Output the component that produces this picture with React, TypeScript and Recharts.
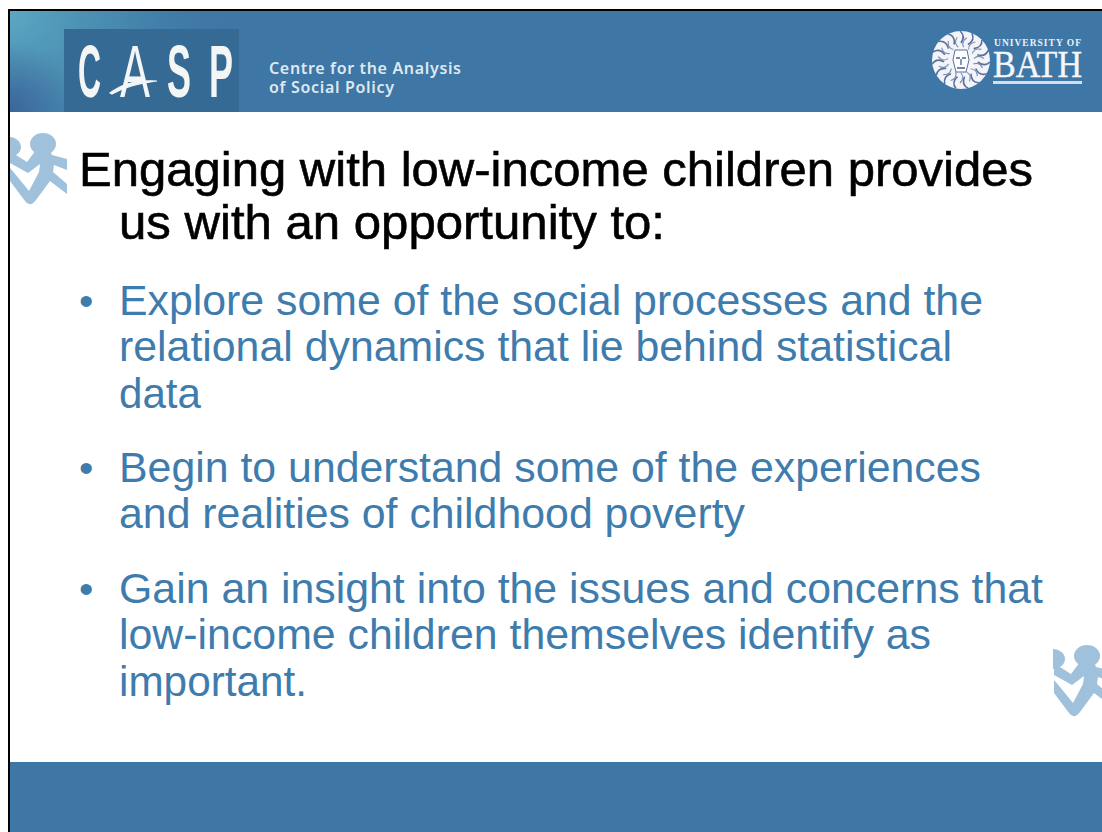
import React from "react";
import { ComposedChart, Customized } from "recharts";

const titleLines = ["Engaging with low-income children provides", "us with an opportunity to:"];
const bulletOne = ["Explore some of the social processes and the", "relational dynamics that lie behind statistical", "data"];
const bulletTwo = ["Begin to understand some of the experiences", "and realities of childhood poverty"];
const bulletThree = ["Gain an insight into the issues and concerns that", "low-income children themselves identify as", "important."];
const logoLetters = ["C", "A", "S", "P"];
const centreLines = ["Centre for the Analysis", "of Social Policy"];
const bathLines = ["UNIVERSITY OF", "BATH"];

const BLUE = "#3e76a5";
const TEXT = "#3f7cae";
const PALE = "#a0c1dc";
const SANS = "'Liberation Sans', Arial, sans-serif";

const Figure = ({ dx, dy, clip }: { dx: number; dy: number; clip: string }) => (
  <g clipPath={`url(#${clip})`}>
    <g transform={`translate(${dx} ${dy})`} fill={PALE}>
      <ellipse cx={43} cy={144} rx={13} ry={11} />
      <ellipse cx={9} cy={147} rx={12} ry={10} />
      <path d="M36 150 L50 150 L52 155 L67 159 L67 170 L54 165 L53 172 L67 184 L67 194 L50 181 L36 200 Q30 208 25 201 L10 181 L10 168 L16 175 L29 191 L39 172 L40 164 L28 173 L10 163 L10 151 L16 155 L27 162 Z" />
    </g>
  </g>
);

const Seal = () => {
  const rays = [0, 24, 48, 72, 96, 120, 144, 168, 192, 216, 240, 264, 288, 312, 336];
  return (
    <g>
      <circle cx={961} cy={60} r={29} fill="#f2f4f8" />
      {rays.map((a) => (
        <path key={a} transform={`rotate(${a} 961 60)`} d="M961 43 Q966 36 960 31" stroke="#5b6f9e" strokeWidth={1.6} fill="none" />
      ))}
      {rays.map((a) => (
        <path key={`b${a}`} transform={`rotate(${a + 12} 961 60)`} d="M961 47 Q957 42 962 37" stroke="#7c8db3" strokeWidth={1.1} fill="none" />
      ))}
      <path d="M955 50 L967 50 L969 60 L966 72 L956 72 L953 60 Z" fill="#ffffff" stroke="#5b6f9e" strokeWidth={1} />
      <path d="M956 58 L960 58 M962 58 L966 58 M961 59 L961 65 M957 68 L965 68" stroke="#4a5f90" strokeWidth={1.3} fill="none" />
    </g>
  );
};

const letterBoxes = [
  { x: 78, w: 23 },
  { x: 120, w: 30 },
  { x: 167, w: 24 },
  { x: 209, w: 24 },
];

const Slide = () => (
  <g>
    <defs>
      <radialGradient id="teal" gradientUnits="userSpaceOnUse" cx={10} cy={11} r={230}>
        <stop offset="0" stopColor="#5ba8c3" />
        <stop offset="0.5" stopColor="#4a8fb2" stopOpacity={0.7} />
        <stop offset="1" stopColor={BLUE} stopOpacity={0} />
      </radialGradient>
      <radialGradient id="dark" gradientUnits="userSpaceOnUse" cx={10} cy={112} r={70}>
        <stop offset="0" stopColor="#3a659b" stopOpacity={1} />
        <stop offset="1" stopColor="#3a659b" stopOpacity={0} />
      </radialGradient>
      <clipPath id="figL"><rect x={10} y={130} width={57} height={80} /></clipPath>
      <clipPath id="figR"><rect x={1053} y={640} width={49} height={80} /></clipPath>
      <filter id="soft" x="-20%" y="-20%" width="140%" height="140%"><feGaussianBlur stdDeviation={0.5} /></filter>
    </defs>

    <rect x={0} y={0} width={1102} height={832} fill="#ffffff" />
    <rect x={8} y={9} width={1094} height={823} fill="#000000" />
    <rect x={10} y={11} width={1092} height={821} fill="#ffffff" />

    <rect x={10} y={11} width={1092} height={101} fill={BLUE} />
    <rect x={10} y={11} width={260} height={101} fill="url(#teal)" />
    <rect x={10} y={42} width={70} height={70} fill="url(#dark)" />
    <rect x={10} y={762} width={1092} height={70} fill={BLUE} />

    <rect x={64} y={29} width={175} height={83} fill="#356a94" />
    <g filter="url(#soft)">
      {logoLetters.map((letter, i) => (
        <text
          key={letter}
          x={letterBoxes[i].x}
          y={97}
          fontFamily="'Liberation Sans Narrow', 'Liberation Sans', sans-serif"
          fontWeight={i === 1 ? 400 : 700}
          fontSize={74}
          fill="#f4f6f6"
          textLength={letterBoxes[i].w}
          lengthAdjust="spacingAndGlyphs"
        >
          {letter}
        </text>
      ))}
      <path d="M110 93 Q128 79 157 81 Q130 84 112 94 Z" fill="#f4f6f6" stroke="#f4f6f6" strokeWidth={1.2} />
    </g>
    {centreLines.map((line, i) => (
      <text key={line} x={269} y={74 + i * 19} fontFamily="'Noto Sans', sans-serif" fontWeight={600} fontSize={16} fill="#dfe8f0" textLength={i === 0 ? 192 : 125}>
        {line}
      </text>
    ))}

    <Seal />
    <text x={994} y={46} fontFamily="'Liberation Serif', serif" fontWeight={700} fontSize={9.5} fill="#eef1f6" textLength={87}>
      {bathLines[0]}
    </text>
    <text x={993} y={77} fontFamily="'Liberation Serif', serif" fontSize={38} fill="#f4f6fa" stroke="#f4f6fa" strokeWidth={0.4} textLength={89} lengthAdjust="spacingAndGlyphs">
      {bathLines[1]}
    </text>
    <rect x={993} y={81} width={89} height={3} fill="#d6dcea" />

    <Figure dx={0} dy={0} clip="figL" />
    <Figure dx={1044} dy={512} clip="figR" />

    {titleLines.map((line, i) => (
      <text key={line} x={i === 0 ? 79 : 119} y={186 + i * 53} fontFamily={SANS} fontSize={48.5} fill="#000000" stroke="#000000" strokeWidth={0.6} textLength={i === 0 ? 954 : 546} lengthAdjust="spacingAndGlyphs">
        {line}
      </text>
    ))}

    {[
      { lines: bulletOne, y: 315, widths: [864, 833, 82] },
      { lines: bulletTwo, y: 482, widths: [862, 626] },
      { lines: bulletThree, y: 603, widths: [924, 812, 188] },
    ].map(({ lines, y, widths }) => (
      <g key={lines[0]}>
        <text x={79} y={y} fontFamily={SANS} fontSize={41} fill={TEXT}>•</text>
        {lines.map((line, i) => (
          <text key={line} x={119} y={y + i * 46.4} fontFamily={SANS} fontSize={42} fill={TEXT} textLength={widths[i]} lengthAdjust="spacingAndGlyphs">
            {line}
          </text>
        ))}
      </g>
    ))}
  </g>
);

export default function App() {
  return (
    <div style={{ position: "absolute", left: 0, top: 0, width: 1102, height: 832, overflow: "hidden" }}>
      <ComposedChart width={1102} height={832} data={[]} margin={{ top: 0, right: 0, bottom: 0, left: 0 }}>
        <Customized component={Slide} />
      </ComposedChart>
    </div>
  );
}
